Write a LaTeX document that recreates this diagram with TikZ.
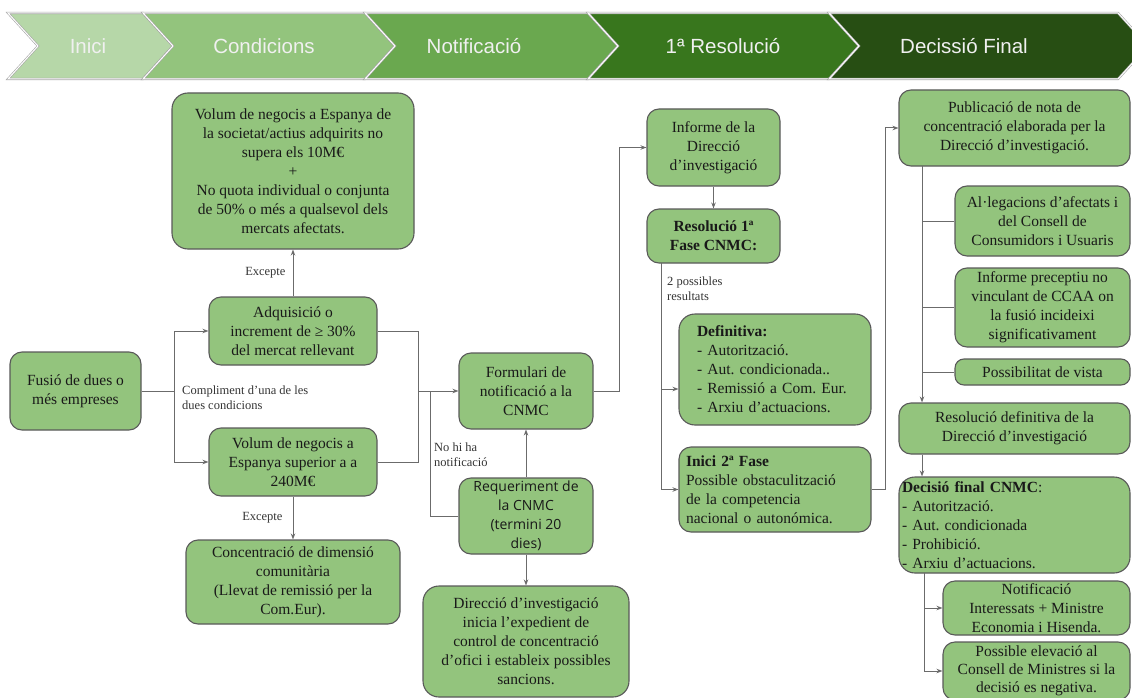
\documentclass[tikz,border=0pt]{standalone}
\usepackage{fontspec}
\setmainfont{Liberation Serif}
\newfontfamily\phasefont{Liberation Sans}
\newfontfamily\reqfont{Open Sans}
\usepackage{tikz}
\usetikzlibrary{arrows.meta,positioning}
\frenchspacing

\definecolor{inicigreen}{HTML}{B6D7A8}
\definecolor{condgreen}{HTML}{93C47D}
\definecolor{notgreen}{HTML}{6AA84F}
\definecolor{resgreen}{HTML}{38761D}
\definecolor{decgreen}{HTML}{274E13}
\definecolor{boxfill}{HTML}{93C47D}
\definecolor{boxline}{HTML}{595959}
\definecolor{linegray}{HTML}{6B6B6B}

\tikzset{
  phase/.style={draw=gray!70, double=white, double distance=1pt, line width=0.6pt},
  phasetext/.style={font=\fontsize{20.5}{24}\selectfont\phasefont, text=white!94!black},
  box/.style={draw=boxline, fill=boxfill, line width=1.1pt, rounded corners=12pt,
    align=center, inner sep=2pt, font=\fontsize{15.5}{19}\selectfont, text=black!90},
  lbox/.style={box, align=left},
  lbl/.style={font=\fontsize{12.5}{15}\selectfont, text=black!80, align=left, inner sep=0pt},
  conn/.style={draw=linegray, line width=1pt},
}

\begin{document}
\begin{tikzpicture}[x=1pt, y=-1pt, >={Stealth[length=6pt,width=4.5pt]}]
\useasboundingbox (0,0) rectangle (1132,698);

% fases
\path[phase, fill=inicigreen] (8,13) -- (143,13) -- (173,46) -- (143,79) -- (8,79) -- (38,46) -- cycle;
\path[phase, fill=condgreen] (143,13) -- (365,13) -- (395,46) -- (365,79) -- (143,79) -- (173,46) -- cycle;
\path[phase, fill=notgreen] (365,13) -- (588,13) -- (618,46) -- (588,79) -- (365,79) -- (395,46) -- cycle;
\path[phase, fill=resgreen] (588,13) -- (829,13) -- (859,46) -- (829,79) -- (588,79) -- (618,46) -- cycle;
\path[phase, fill=decgreen] (829,13) -- (1118,13) -- (1148,46) -- (1118,79) -- (829,79) -- (859,46) -- cycle;
\node[phasetext] (pinici) at (88,46) {Inici};
\node[phasetext] (pcond) at (264,46) {Condicions};
\node[phasetext] (pnotif) at (474,46) {Notificació};
\node[phasetext] (pres) at (723,46) {1ª Resolució};
\node[phasetext] (pdec) at (964,46) {Decissió Final};

% inici i condicions
\node[box, minimum width=131pt, minimum height=78pt] (fusio) at (75.5,391) {Fusió de dues o\\més empreses};
\node[box, minimum width=242pt, minimum height=156pt, rounded corners=16pt] (vol10) at (293,171)
  {Volum de negocis a Espanya de\\la societat/actius adquirits no\\supera els 10M€\\+\\No quota individual o conjunta\\de 50\% o més a qualsevol dels\\mercats afectats.};
\node[box, minimum width=168pt, minimum height=68pt] (adq) at (293,331) {Adquisició o\\increment de ≥ 30\%\\del mercat rellevant};
\node[box, minimum width=168pt, minimum height=68pt] (vol240) at (293,462) {Volum de negocis a\\Espanya superior a a\\240M€};
\node[box, minimum width=214pt, minimum height=84pt] (concdim) at (293,582) {Concentració de dimensió\\comunitària\\(Llevat de remissió per la\\Com.Eur).};

% notificacio
\node[box, minimum width=134pt, minimum height=76pt] (form) at (526,391) {Formulari de\\notificació a la\\CNMC};
\node[box, minimum width=134pt, minimum height=76pt, font=\fontsize{14}{19}\selectfont\reqfont] (req) at (526,516) {Requeriment de\\la CNMC\\(termini 20\\dies)};
\node[box, minimum width=206pt, minimum height=111pt, rounded corners=16pt] (dirinv) at (526,641.5)
  {Direcció d’investigació\\inicia l’expedient de\\control de concentració\\d’ofici i estableix possibles\\sancions.};

% 1a resolucio
\node[box, minimum width=133pt, minimum height=77pt] (inf) at (713.5,147.5) {Informe de la\\Direcció\\d’investigació};
\node[box, minimum width=133pt, minimum height=54pt] (res1) at (713.5,236) {\textbf{Resolució 1ª}\\\textbf{Fase CNMC:}};
\node[lbox, text width=156pt, inner xsep=18pt, minimum height=111pt, rounded corners=16pt] (defin) at (775,369.5)
  {\textbf{Definitiva:}\\- Autorització.\\- Aut. condicionada..\\- Remissió a Com. Eur.\\- Arxiu d’actuacions.};
\node[lbox, text width=178pt, inner xsep=7pt, minimum height=85pt] (ini2) at (775,489.5)
  {\textbf{Inici 2ª Fase}\\Possible obstaculització\\de la competencia\\nacional o autonómica.};

% decisio final
\node[box, minimum width=231pt, minimum height=76pt] (pub) at (1014.5,128) {Publicació de nota de\\concentració elaborada per la\\Direcció d’investigació.};
\node[box, minimum width=175pt, minimum height=70pt] (alleg) at (1042.5,221) {Al·legacions d’afectats i\\del Consell de\\Consumidors i Usuaris};
\node[box, minimum width=175pt, minimum height=79pt] (infprec) at (1042.5,307.5) {Informe preceptiu no\\vinculant de CCAA on\\la fusió incideixi\\significativament};
\node[box, minimum width=175pt, minimum height=26pt, inner ysep=0pt, rounded corners=9pt] (vista) at (1042.5,372) {Possibilitat de vista};
\node[box, minimum width=231pt, minimum height=51pt] (resdef) at (1014.5,428.5) {Resolució definitiva de la\\Direcció d’investigació};
\node[lbox, text width=225pt, inner xsep=3pt, inner ysep=0pt, minimum height=96pt, rounded corners=16pt] (decfin) at (1014.5,525)
  {\textbf{Decisió final CNMC}:\\- Autorització.\\- Aut. condicionada\\- Prohibició.\\- Arxiu d’actuacions.};
\node[box, minimum width=187pt, minimum height=54pt, inner ysep=0pt] (notif) at (1036.5,608) {Notificació\\Interessats + Ministre\\Economia i Hisenda.};
\node[box, minimum width=187pt, minimum height=58pt, inner ysep=0pt, font=\fontsize{15.5}{18}\selectfont] (elev) at (1036.5,671) {Possible elevació al\\Consell de Ministres si la\\decisió es negativa.};

% connexions
\coordinate (jfus) at (174,391);
\draw[conn] (fusio) -- (jfus);
\draw[conn,->] (jfus) |- (adq);
\draw[conn,->] (jfus) |- (vol240);
\node[lbl, anchor=west] (lcompl) at (182,398) {Compliment d’una de les\\dues condicions};
\draw[conn,->] (adq) -- (vol10) node[lbl, midway, left=7pt] (lexc1) {Excepte};
\draw[conn,->] (vol240) -- (concdim) node[lbl, midway, left=10pt] (lexc2) {Excepte};

\coordinate (jcond) at (418,391);
\coordinate (jreq) at (430,391);
\draw[conn] (adq) -| (jcond);
\draw[conn] (vol240) -| (jcond);
\draw[conn,->] (jcond) -- (form);
\draw[conn] (req) -| (jreq);
\node[lbl, anchor=west] (lnohi) at (434,455) {No hi ha\\notificació};
\draw[conn,->] (req) -- (form);
\draw[conn,->] (req) -- (dirinv);

\draw[conn,->] (form.east) -- ++(26,0) |- (inf);
\draw[conn,->] (inf) -- (res1);
\coordinate (jres) at (661,263);
\draw[conn,->] (jres) |- ([yshift=-19.5pt]defin.west);
\draw[conn,->] (jres) |- (ini2);
\node[lbl, anchor=west] (lposs) at (667,289) {2 possibles\\resultats};

\draw[conn,->] (ini2.east) -- ++(14,0) |- (pub);
\coordinate (jpub) at (922,166);
\draw[conn,->] (jpub) -- (jpub |- resdef.north);
\draw[conn] (jpub |- alleg.west) -- (alleg.west);
\draw[conn] (jpub |- infprec.west) -- (infprec.west);
\draw[conn] (jpub |- vista.west) -- (vista.west);
\draw[conn,->] (resdef.south -| jpub) -- (decfin.north -| jpub);
\coordinate (jdec) at (924,573);
\draw[conn,->] (jdec) |- (notif);
\draw[conn,->] (jdec) |- (elev);
\end{tikzpicture}
\end{document}
